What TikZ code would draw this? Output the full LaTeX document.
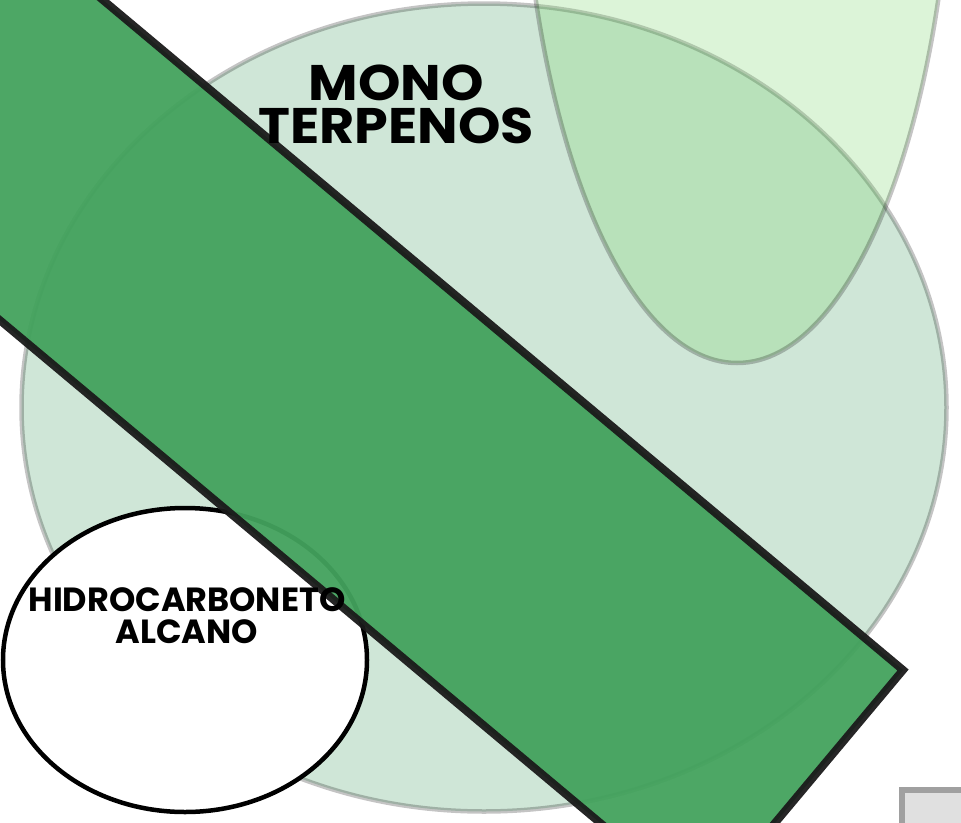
\documentclass[tikz,border=0pt]{standalone}
\usepackage{fontspec}
\usetikzlibrary{shapes.geometric}
\setmainfont{Poppins}[BoldFont={* Bold}]
\definecolor{circfill}{RGB}{207,230,215}
\definecolor{topfill}{RGB}{117,212,100}
\definecolor{bandfill}{RGB}{67,162,93}
\definecolor{bandline}{RGB}{26,26,26}
\definecolor{boxline}{RGB}{160,160,160}
\definecolor{boxfill}{RGB}{224,224,224}
\tikzset{
  softline/.style={draw=black, draw opacity=0.23, line width=4.5pt},
  txtlabel/.style={text=black, align=center, inner sep=0pt},
}
\begin{document}
\begin{tikzpicture}[x=1pt,y=-1pt]
\useasboundingbox (0,0) rectangle (961,822);
\clip (0,0) rectangle (961,822);
% big circle
\node[softline, ellipse, fill=circfill, minimum width=925pt, minimum height=808pt, inner sep=0pt] (mono) at (484,407.5) {};
% top ellipse
\path[softline, fill=topfill, fill opacity=0.25] (737,-208) ellipse [x radius=216, y radius=571];
\coordinate (topell) at (737,-208);
% white ellipse
\node[draw=black, line width=4.5pt, ellipse, fill=white, minimum width=364pt, minimum height=304pt, inner sep=0pt] (hidro) at (185,660) {};
% band
\coordinate (bA) at (903,670);
\coordinate (bB) at (703,909);
\coordinate (bC) at (-447,-54);
\coordinate (bD) at (-247,-293);
\draw[draw=bandline, line width=8pt, fill=bandfill, opacity=0.95, line join=miter] (bA) -- (bB) -- (bC) -- (bD) -- cycle;
% gray box
\draw[draw=boxline, line width=6pt, fill=boxfill] (902,790) rectangle (1000,900);
% texts
\node[txtlabel, anchor=north, font=\bfseries\fontsize{50}{43}\selectfont] (monotxt) at (396,65) {\scalebox{1.08}[1]{MONO}\\\scalebox{1.08}[1]{TERPENOS}};
\node[txtlabel, anchor=north, font=\bfseries\fontsize{33.5}{32}\selectfont] (hidrotxt) at (187,587) {HIDROCARBONETO\\ALCANO};
\end{tikzpicture}
\end{document}
